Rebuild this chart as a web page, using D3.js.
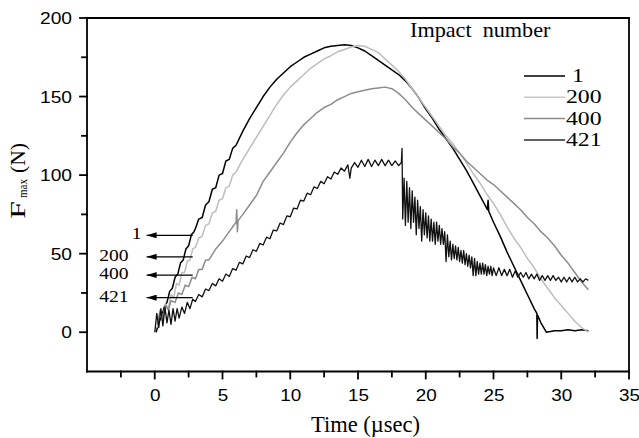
<!DOCTYPE html>
<html>
<head>
<meta charset="utf-8">
<script src="https://cdn.jsdelivr.net/npm/d3@7"></script>
<style>
    body { margin: 0; background: #fff; }
    svg { display: block; }
    .serif { font-family: "Liberation Serif", "Times New Roman", serif; }
    .sans { font-family: "Liberation Sans", Arial, sans-serif; }
</style>
</head>
<body>
<div id="chart"></div>
<script>
// [time (usec), force (N)]
var impact1 = [
    [0.1,0],[0.3,6],[0.5,10],[0.7,16],[0.9,19],[1.1,26],[1.3,28],[1.5,35],[1.7,37],[1.9,44],
    [2.1,46],[2.3,53],[2.5,55],[2.7,62],[2.9,64],[3.0,66],[3.25,72],[3.5,73],[3.75,81],[4.0,83],
    [4.25,91],[4.5,92],[4.75,100],[5.0,101],[5.25,109],[5.5,110],[5.75,117],[6,119],[6.5,128],
    [7,136],[7.5,143],[8,150],[8.5,156],[9,161],[9.5,165],[10,169],[10.5,172],[11,175],[11.5,177],
    [12,179],[12.5,181],[13,182],[13.5,182.5],[14,183],[14.5,182.5],[15,181],[15.5,179],[16,176],
    [16.5,173],[17,170],[17.5,167],[18,164],[18.5,160],[19,155],[19.5,149],[20,142],[20.5,136],
    [21,129],[21.5,123],[22,117],[22.5,110],[23,103],[23.5,95],[24,87],[24.55,78],[24.6,84],
    [24.65,77],[25,70],[25.5,61],[26,51],[26.5,42],[27,33],[27.5,24],[28,15],[28.2,12],[28.22,-4],
    [28.25,11],[28.5,6],[28.9,0],[29.2,0.5],[29.5,1],[30,1],[30.5,1.5],[31,1],[31.5,1.5],[32,1]
];
var impact200 = [
    [0.2,3],[0.4,12],[0.6,8],[0.8,18],[1,15],[1.2,24],[1.4,22],[1.6,31],[1.8,30],[2,38],[2.2,38],
    [2.4,45],[2.6,46],[2.8,53],[3,54],[3.25,60],[3.5,61],[3.75,68],[4,69],[4.25,76],[4.5,77],
    [4.75,84],[5,85],[5.25,92],[5.5,93],[5.75,100],[6,102],[6.5,110],[7,117],[7.5,124],[8,131],
    [8.5,138],[9,145],[9.5,151],[10,156],[10.5,160],[11,164],[11.5,168],[12,171],[12.5,174],
    [13,176],[13.5,178.5],[14,180],[14.5,181.5],[15,182.5],[15.5,182],[16,180],[16.5,178],[17,174],
    [17.5,170],[18,166],[18.5,161],[19,155],[19.5,149],[20,143],[20.5,137],[21,131],[21.5,125],
    [22,120],[22.5,114],[23,108],[23.5,101],[24,95],[24.5,88],[25,82],[25.5,75],[26,67],[26.5,60],
    [27,54],[27.5,47],[28,41],[28.5,34],[29,28],[29.5,22],[30,17],[30.5,12],[31,7],[31.5,3],[32,0]
];
var impact400 = [
    [0.2,5],[0.4,14],[0.6,10],[0.8,17],[1,14],[1.2,20],[1.5,19],[1.75,25],[2,24],[2.25,30],[2.5,29],
    [2.75,35],[3,34],[3.25,40],[3.5,40],[3.75,46],[4,46],[4.5,53],[5,58],[5.5,64],[6,70],[6.05,78],
    [6.1,64],[6.15,71],[6.5,75],[7,81],[7.5,87],[8,96],[8.5,102],[9,108],[9.5,114],[10,121],
    [10.5,127],[11,132],[11.5,136],[12,140],[12.5,143],[13,145],[13.5,148],[14,150],[14.5,152],
    [15,153],[15.5,154],[16,155],[16.5,155.5],[17,156],[17.5,155],[18,152],[18.5,148],[19,143],
    [19.5,139],[20,135],[20.5,131],[21,127],[21.5,123],[22,118],[22.5,114],[23,109],[23.5,105],
    [24,101],[24.5,97],[25,94],[25.5,90],[26,86],[26.5,82],[27,78],[27.5,73],[28,69],[28.5,64],
    [29,60],[29.5,55],[30,49],[30.5,44],[31,38],[31.5,32],[32,27]
];
var impact421 = [
    [0,0],[0.15,12],[0.3,3],[0.45,15],[0.6,4],[0.75,16],[0.9,6],[1.05,14],[1.2,5],[1.35,15],[1.5,7],
    [1.65,15],[1.8,9],[2.0,16],[2.2,12],[2.4,19],[2.6,15],[2.8,21],[3.0,19.5],[3.25,24],[3.5,22.5],
    [3.75,27.5],[4.0,26.5],[4.25,31],[4.5,29.5],[4.75,34],[5.0,32.5],[5.25,37],[5.5,35.5],[5.75,40.5],
    [6.0,39.5],[6.25,44.5],[6.5,43.5],[6.75,48.5],[7.0,47.5],[7.25,52.5],[7.5,51.5],[7.75,56.5],
    [8.0,55.5],[8.25,60.5],[8.5,59.5],[8.75,65],[9.0,64.5],[9.25,69.5],[9.5,68.5],[9.75,74],
    [10.0,73.5],[10.25,79],[10.5,78.5],[10.75,84],[11.0,83.5],[11.25,88.5],[11.5,87.5],[11.75,92.5],
    [12.0,91.5],[12.25,96],[12.5,94.5],[12.75,99],[13.0,97.5],[13.25,102],[13.5,100.5],[13.75,104.5],
    [14.0,102.5],[14.25,106.5],[14.4,98],[14.5,104.5],[14.75,108],[15.0,105],[15.25,109.5],
    [15.5,105.5],[15.75,110],[16.0,105.5],[16.25,109.5],[16.5,106],[16.75,110],[17.0,106],
    [17.25,109.5],[17.5,106],[17.75,109],[18.0,106],[18.2,108],[18.25,117],[18.3,72],
    [18.4,98],[18.5,68],[18.6,96],[18.7,70],[18.8,92],[18.9,66],[19.0,90],[19.1,70],[19.2,86],
    [19.3,62],[19.4,84],[19.5,66],[19.6,80],[19.7,58],[19.8,78],[19.9,62],[20.0,76],[20.1,60],
    [20.2,74],[20.3,58],[20.4,72],[20.5,58],[20.6,70],[20.7,56],[20.8,70],[20.9,58],[21.0,68],
    [21.1,56],[21.2,66],[21.3,56],[21.4,64],[21.5,45],[21.6,62],[21.7,48],[21.8,58],[21.9,46],
    [22.0,56],[22.1,47],[22.2,55],[22.3,46],[22.4,54],[22.5,45],[22.6,52],[22.7,44],[22.8,52],
    [22.9,43],[23.0,50],[23.1,42],[23.2,49],[23.3,41],[23.4,48],[23.5,36],[23.6,47],[23.7,36],
    [23.8,45],[23.9,37],[24.0,44],[24.1,37],[24.2,44],[24.3,37],[24.4,43],[24.5,36],[24.6,42],
    [24.7,37],[24.8,42],[24.9,36],[25.0,41],[25.2,36],[25.4,41],[25.6,36],[25.8,40],[26.0,36],
    [26.2,40],[26.4,35],[26.6,39],[26.8,35],[27.0,38],[27.2,35],[27.4,38],[27.6,34],[27.8,37],
    [28.0,34],[28.2,37],[28.4,33],[28.6,36],[28.8,33],[29.0,36],[29.2,33],[29.4,36],[29.6,33],
    [29.8,35],[30.0,32],[30.2,35],[30.4,32],[30.6,35],[30.8,32],[31.0,35],[31.2,32],[31.4,34],
    [31.6,32],[31.8,34],[32.0,33]
];

var seriesNames = ["1", "200", "400", "421"];
var seriesData = [impact1, impact200, impact400, impact421];
var lineColors = ["#000000", "#bdbdbd", "#8c8c8c", "#111111"];
var legendColors = ["#000000", "#c8c8c8", "#8c8c8c", "#606060"];

// arrow annotations: force level each label points at
var arrowLevels = [61.7, 48, 36.4, 22];
var arrowFrom = 2.8, arrowTo = -0.6;

var xTicks = [-2.5, 0, 2.5, 5, 7.5, 10, 12.5, 15, 17.5, 20, 22.5, 25, 27.5, 30, 32.5, 35];
var xLabels = [0, 5, 10, 15, 20, 25, 30, 35];
var yTicks = [0, 25, 50, 75, 100, 125, 150, 175, 200];
var yLabels = [0, 50, 100, 150, 200];

var cfg = {
    width: 639,
    height: 438,
    mTop: 18,
    mRight: 10,
    mBottom: 66.5,
    mLeft: 87,
    majorTick: 7,
    minorTick: 5
};

var x = d3.scaleLinear()
    .domain([-5, 35])
    .range([cfg.mLeft, cfg.width - cfg.mRight]);
var y = d3.scaleLinear()
    .domain([-25, 200])
    .range([cfg.height - cfg.mBottom, cfg.mTop]);

var svg = d3.select("#chart").append("svg")
    .attr("width", cfg.width)
    .attr("height", cfg.height)
    .attr("viewBox", "0 0 " + cfg.width + " " + cfg.height);

// text stretched horizontally like the scanned original
function label(parent, str, px, py, size, sx, anchor, cls) {
    return parent.append("text")
        .attr("class", cls)
        .attr("transform", "translate(" + px + "," + py + ") scale(" + sx + ",1)")
        .attr("text-anchor", anchor || "start")
        .attr("font-size", size)
        .attr("fill", "#000")
        .text(str);
}

// traces
var valueline = d3.line()
    .x(function (d) { return x(d[0]); })
    .y(function (d) { return y(d[1]); });

svg.selectAll(".trace")
    .data(seriesData)
    .enter()
    .append("path")
    .attr("class", "trace")
    .attr("d", valueline)
    .attr("fill", "none")
    .attr("stroke", function (d, i) { return lineColors[i]; })
    .attr("stroke-width", function (d, i) { return i === 3 ? 1.3 : 1.5; })
    .attr("stroke-linejoin", "round");

// axes: labels from d3 axis
var xAxis = d3.axisBottom(x)
    .tickValues(xTicks)
    .tickSize(0)
    .tickFormat(function (d) { return xLabels.indexOf(d) >= 0 ? d : ""; });
var yAxis = d3.axisLeft(y)
    .tickValues(yTicks)
    .tickSize(0)
    .tickFormat(function (d) { return yLabels.indexOf(d) >= 0 ? d : ""; });

function customXAxis(g) {
    g.call(xAxis);
    g.attr("font-family", "Liberation Sans, Arial, sans-serif").attr("font-size", 16);
    g.select(".domain").remove();
    g.selectAll(".tick line").remove();
    g.selectAll(".tick text")
        .attr("fill", "#000")
        .attr("y", 30)
        .attr("dy", 0)
        .attr("transform", "scale(1.18,1)");
}

function customYAxis(g) {
    g.call(yAxis);
    g.attr("font-family", "Liberation Sans, Arial, sans-serif").attr("font-size", 16);
    g.select(".domain").remove();
    g.selectAll(".tick line").remove();
    g.selectAll(".tick text")
        .attr("fill", "#000")
        .attr("x", -15 / 1.2)
        .attr("dy", "0.36em")
        .attr("transform", "scale(1.2,1)");
}

svg.append("g")
    .attr("transform", "translate(0," + y(-25) + ")")
    .call(customXAxis);

svg.append("g")
    .attr("transform", "translate(" + x(-5) + ",0)")
    .call(customYAxis);

// arrows with impact labels
svg.append("defs").append("marker")
    .attr("id", "head")
    .attr("viewBox", "0 0 10 6")
    .attr("refX", 0)
    .attr("refY", 3)
    .attr("markerWidth", 10)
    .attr("markerHeight", 6)
    .attr("markerUnits", "userSpaceOnUse")
    .attr("orient", "auto")
    .append("path")
    .attr("d", "M0,3L10,0L10,6Z")
    .attr("fill", "#000");

arrowLevels.forEach(function (v, i) {
    svg.append("line")
        .attr("x1", x(arrowTo))
        .attr("x2", x(arrowFrom))
        .attr("y1", y(v))
        .attr("y2", y(v))
        .attr("stroke", "#000")
        .attr("stroke-width", 1.2)
        .attr("marker-start", "url(#head)");
    var gap = seriesNames[i].length === 1 ? 5 : 18;
    label(svg, seriesNames[i], x(arrowTo) - gap, y(v) + 4, 17, 1.15, "end", "serif");
});

// legend
var legend = svg.append("g");
label(legend, "Impact\u00a0 number", 410, 37, 20, 1.11, "start", "serif");
seriesNames.forEach(function (name, i) {
    var ly = 76 + i * 21.3;
    legend.append("line")
        .attr("x1", 524)
        .attr("x2", 565)
        .attr("y1", ly)
        .attr("y2", ly)
        .attr("stroke", legendColors[i])
        .attr("stroke-width", i === 3 ? 2 : 1.5);
    label(legend, name, name.length === 1 ? 572 : 566, ly + 6, 19, 1.25, "start", "serif");
});

// axis titles
label(svg, "Time (\u00b5sec)", 311, 431.5, 22.5, 1, "start", "serif");

var yTitle = svg.append("g")
    .attr("class", "serif")
    .attr("fill", "#000")
    .attr("transform", "translate(25,219) rotate(-90)");
yTitle.append("text").attr("x", 0).attr("font-size", 22)
    .attr("textLength", 18).attr("lengthAdjust", "spacingAndGlyphs").text("F");
yTitle.append("text").attr("x", 21).attr("y", 2).attr("font-size", 13)
    .attr("textLength", 19).attr("lengthAdjust", "spacingAndGlyphs").text("max");
yTitle.append("text").attr("x", 46).attr("font-size", 22)
    .attr("textLength", 30).attr("lengthAdjust", "spacingAndGlyphs").text("(N)");

// frame and tick marks, drawn last as plain lines
var x0 = x(-5), x1 = x(35), y0 = y(-25), y1 = y(200);
var frameLines = [
    [x0, y1, x1, y1],
    [x1, y1, x1, y0],
    [x1, y0, x0, y0],
    [x0, y0, x0, y1]
];
xTicks.forEach(function (d) {
    var len = xLabels.indexOf(d) >= 0 ? cfg.majorTick : cfg.minorTick;
    frameLines.push([x(d), y0, x(d), y0 + len]);
});
yTicks.forEach(function (d) {
    var len = yLabels.indexOf(d) >= 0 ? cfg.majorTick : cfg.minorTick;
    frameLines.push([x0, y(d), x0 - len, y(d)]);
});

svg.append("g")
    .selectAll("line")
    .data(frameLines)
    .enter()
    .append("line")
    .attr("x1", function (d) { return d[0]; })
    .attr("y1", function (d) { return d[1]; })
    .attr("x2", function (d) { return d[2]; })
    .attr("y2", function (d) { return d[3]; })
    .attr("stroke", "#000")
    .attr("stroke-width", 1.8)
    .attr("stroke-linecap", "square");
</script>
</body>
</html>
